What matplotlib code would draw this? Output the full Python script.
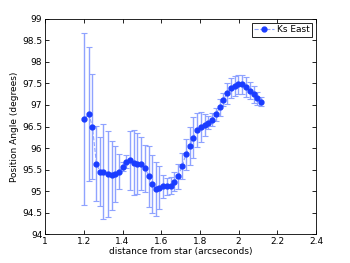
import matplotlib
matplotlib.use("Agg")
import matplotlib.pyplot as plt

# distance from star (arcsec)
dist = [1.203, 1.225, 1.244, 1.265, 1.284, 1.301, 1.324, 1.343, 1.363, 1.383,
        1.402, 1.420, 1.440, 1.459, 1.477, 1.496, 1.517, 1.537, 1.553, 1.574,
        1.590, 1.610, 1.630, 1.648, 1.667, 1.686, 1.708, 1.727, 1.747, 1.766,
        1.785, 1.804, 1.825, 1.844, 1.862, 1.883, 1.902, 1.921, 1.940, 1.961,
        1.979, 1.998, 2.019, 2.038, 2.057, 2.077, 2.096, 2.117]

# position angle (deg)
pa = [96.67, 96.79, 96.50, 95.64, 95.45, 95.45, 95.40, 95.37, 95.40, 95.45,
      95.57, 95.68, 95.71, 95.66, 95.64, 95.64, 95.53, 95.34, 95.16, 95.05,
      95.08, 95.11, 95.11, 95.12, 95.22, 95.34, 95.58, 95.85, 96.05, 96.24,
      96.42, 96.48, 96.53, 96.59, 96.66, 96.78, 96.95, 97.12, 97.27, 97.39,
      97.44, 97.48, 97.48, 97.41, 97.33, 97.25, 97.16, 97.08]

pa_err = [2.00, 1.55, 1.22, 0.87, 0.80, 1.10, 1.00, 0.80, 0.65, 0.40,
          0.10, 0.15, 0.69, 0.75, 0.70, 0.62, 0.55, 0.70, 0.67, 0.62,
          0.50, 0.27, 0.20, 0.20, 0.23, 0.30, 0.30, 0.35, 0.44, 0.48,
          0.40, 0.35, 0.25, 0.15, 0.15, 0.15, 0.20, 0.15, 0.25, 0.23,
          0.23, 0.22, 0.22, 0.23, 0.20, 0.20, 0.15, 0.10]

fig = plt.figure(figsize=(3.5, 2.63), dpi=100)
ax = fig.add_axes([0.129, 0.110, 0.774, 0.818])

ax.errorbar(dist, pa, yerr=pa_err, fmt='none', ecolor='#8fa3ff',
            elinewidth=1.0, capsize=2, capthick=0.8)
ax.plot(dist, pa, linestyle='--', color='#8fa3ff', linewidth=0.8,
        marker='o', markersize=3.5, markerfacecolor='#1a3cff',
        markeredgecolor='#1a3cff', label='Ks East')

ax.set_xlim(1, 2.4)
ax.set_ylim(94, 99)
ax.set_xticks([1, 1.2, 1.4, 1.6, 1.8, 2, 2.2, 2.4])
ax.set_xticklabels(['1', '1.2', '1.4', '1.6', '1.8', '2', '2.2', '2.4'])
ax.set_yticks([94, 94.5, 95, 95.5, 96, 96.5, 97, 97.5, 98, 98.5, 99])
ax.set_yticklabels(['94', '94.5', '95', '95.5', '96', '96.5', '97', '97.5', '98', '98.5', '99'])
ax.tick_params(direction='in', length=3, width=0.6, labelsize=6.5,
               top=True, right=True, pad=2)
for s in ax.spines.values():
    s.set_linewidth(0.6)

ax.set_xlabel('distance from star (arcseconds)', fontsize=6.5, labelpad=1)
ax.set_ylabel('Position Angle (degrees)', fontsize=6.5, labelpad=2)

leg = ax.legend(loc='upper right', fontsize=6.5, handlelength=2.2,
                borderpad=0.3, handletextpad=0.3, borderaxespad=0.4,
                fancybox=False, framealpha=1)
leg.get_frame().set_edgecolor('black')
leg.get_frame().set_linewidth(0.6)

fig.savefig('out.png', dpi=100)
